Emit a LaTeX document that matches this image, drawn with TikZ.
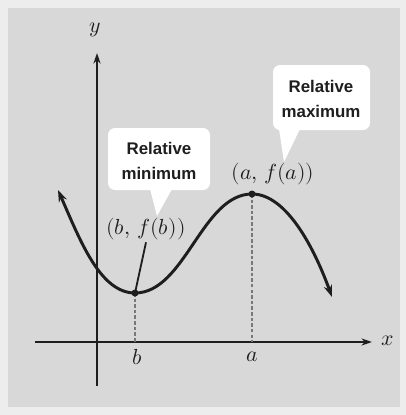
\documentclass[tikz,border=0pt]{standalone}
\usepackage{fontspec}
\usepackage{unicode-math}
\setsansfont{Liberation Sans}
\setmathfont{Latin Modern Math}
\usetikzlibrary{arrows.meta}
\begin{document}
\begin{tikzpicture}[x=0.05cm,y=-0.05cm,
  axe/.style={line width=3.2pt,encre,-{Stealth[length=15pt,width=10pt]}},
  courbe/.style={line width=4.2pt,encre,{Stealth[length=17pt,width=12pt]}-{Stealth[length=17pt,width=12pt]}},
  pointille/.style={line width=2pt,gris,dash pattern=on 5pt off 3pt},
  bulle/.style={fill=white,rounded corners=10pt},
  etiquette/.style={font=\fontsize{24}{35}\selectfont\sffamily\bfseries,align=center,text=encre},
  maths/.style={font=\fontsize{31}{33}\selectfont,text=encre}]
\definecolor{fond}{RGB}{216,216,216}
\definecolor{gris}{RGB}{120,120,120}
\definecolor{encre}{RGB}{30,30,30}
\useasboundingbox (0,0) rectangle (406,415);
\fill[fond!45!white] (0,0) rectangle (406,415);
\fill[fond] (8,8) rectangle (400,407);
% bulles
\fill[bulle] (108,128) rectangle (210,190);
\fill[white] (150,189) -- (157,216) -- (172,189) -- cycle;
\node[etiquette] (relmin) at (159,161) {Relative\\minimum};
\fill[bulle] (273,65) rectangle (370,130);
\fill[white] (279,129) -- (284,162) -- (300,129) -- cycle;
\node[etiquette] (relmax) at (321,99) {Relative\\maximum};
% axes
\coordinate (xg) at (35,342);
\coordinate (xd) at (372,342);
\coordinate (yb) at (97,386);
\coordinate (yh) at (97,53);
\draw[axe] (xg) -- (xd);
\draw[axe] (yb) -- (yh);
\node[maths] (lblx) at (388,341) {$x$};
\node[maths] (lbly) at (95,30) {$y$};
% points
\coordinate (debut) at (58,190);
\coordinate (pb) at (135,293);
\coordinate (pa) at (252,194);
\coordinate (fin) at (332,297);
\coordinate (b0) at (135,342);
\coordinate (a0) at (252,342);
\draw[pointille] (pb) -- (b0);
\draw[pointille] (pa) -- (a0);
\node[maths] (lblb) at (137,357) {$b$};
\node[maths] (lbla) at (252,357) {$a$};
\draw[courbe] (debut) .. controls (80,240) and (100,293) .. (pb)
  .. controls (185,293) and (202,194) .. (pa)
  .. controls (287,194) and (315,250) .. (fin);
\fill[encre] (pb) circle (3.5);
\fill[encre] (pa) circle (3.5);
\node[maths] (coordb) at (146,229) {$(b,\, f(b))$};
\node[maths] (coorda) at (273,174) {$(a,\, f(a))$};
\draw[line width=2.6pt,encre] (coordb.south) -- (pb);
\end{tikzpicture}
\end{document}
